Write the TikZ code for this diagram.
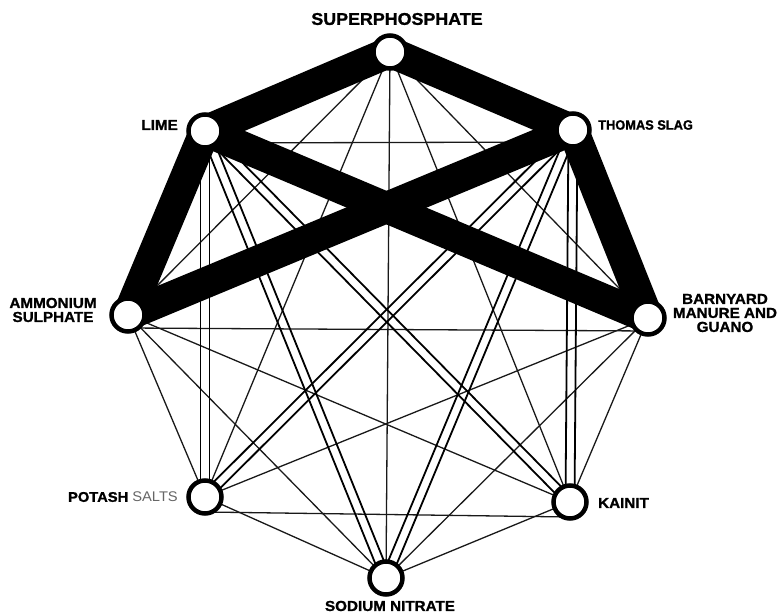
\documentclass[tikz,border=0pt]{standalone}
\usepackage{fontspec}
\newfontfamily\labfont{Liberation Sans}[FakeStretch=1.05,BoldFeatures={FakeBold=1.2}]
\newfontfamily\narrowfont{Liberation Sans}[FakeStretch=0.95,BoldFeatures={FakeBold=1.2}]
\usetikzlibrary{calc}
\pgfdeclarelayer{bgfill}
\pgfdeclarelayer{background}
\pgfsetlayers{bgfill,background,main}
\newcommand\dblconn[2]{%
  \draw[dblln] ($(#1.center)!4.5pt!90:(#2.center)$) -- ($(#2.center)!4.5pt!-90:(#1.center)$);
  \draw[dblln] ($(#1.center)!4.5pt!-90:(#2.center)$) -- ($(#2.center)!4.5pt!90:(#1.center)$);}
\begin{document}
\begin{tikzpicture}[x=1pt,y=-1pt,
  nd/.style={circle,draw=black,fill=white,line width=4.5pt,minimum size=33pt,inner sep=0pt},
  thinln/.style={line width=1.3pt,draw=black!90},
  dblln/.style={line width=1.8pt,draw=black},
  band/.style={line width=31pt,line cap=round,draw=black},
  lab/.style={font=\labfont\bfseries\fontsize{14.5}{14}\selectfont,inner sep=0pt,text=black}
]
\useasboundingbox (0,0) rectangle (782,615);
\begin{pgfonlayer}{bgfill}
  \fill[white] (0,0) rectangle (782,615);
\end{pgfonlayer}
% nodes
\node[nd] (S) at (390,52) {};
\node[nd] (L) at (205,131) {};
\node[nd] (T) at (573,130) {};
\node[nd] (A) at (128,315) {};
\node[nd] (B) at (648,318) {};
\node[nd] (P) at (205,497) {};
\node[nd] (K) at (570,502) {};
\node[nd] (N) at (386,578) {};
\begin{pgfonlayer}{background}
  % thin connectors
  \foreach \a/\b in {S/A,S/B,S/P,S/N,S/K,A/P,A/K,A/N,B/P,B/K,B/N,P/N,K/N}
    \draw[thinln] (\a.center) -- (\b.center);
  \draw[thinln] ([yshift=-12pt]L.center) -- ([yshift=-12pt]T.center);
  \draw[thinln] ([yshift=-13pt]A.center) -- ([yshift=-13pt]B.center);
  \draw[thinln] ([yshift=-15pt]P.center) -- ([yshift=-15pt]K.center);
  % double connectors
  \dblconn{L}{P}
  \dblconn{L}{N}
  \dblconn{L}{K}
  \dblconn{T}{P}
  \dblconn{T}{N}
  \dblconn{T}{K}
  % thick bands
  \foreach \a/\b in {S/L,S/T,L/A,L/B,T/A,T/B}
    \draw[band] (\a.center) -- (\b.center);
\end{pgfonlayer}
% labels
\node[lab,font=\labfont\bfseries\fontsize{17}{18}\selectfont] (tS) at (397,19) {SUPERPHOSPHATE};
\node[lab,anchor=east] (tL) at (178,125) {LIME};
\node[lab,anchor=west,font=\narrowfont\bfseries\fontsize{13.5}{14}\selectfont] (tT) at (598,125) {THOMAS SLAG};
\node[lab,align=center] (tA) at (53,310) {AMMONIUM\\SULPHATE};
\node[lab,align=center] (tB) at (725,313) {BARNYARD\\MANURE AND\\GUANO};
\node[lab,anchor=east,font=\labfont\bfseries\fontsize{14}{14}\selectfont] (tP) at (178,497) {POTASH {\mdseries\color{black!60}SALTS}};
\node[lab,anchor=west] (tK) at (598,503) {KAINIT};
\node[lab] (tN) at (390,606) {SODIUM NITRATE};
\end{tikzpicture}
\end{document}
